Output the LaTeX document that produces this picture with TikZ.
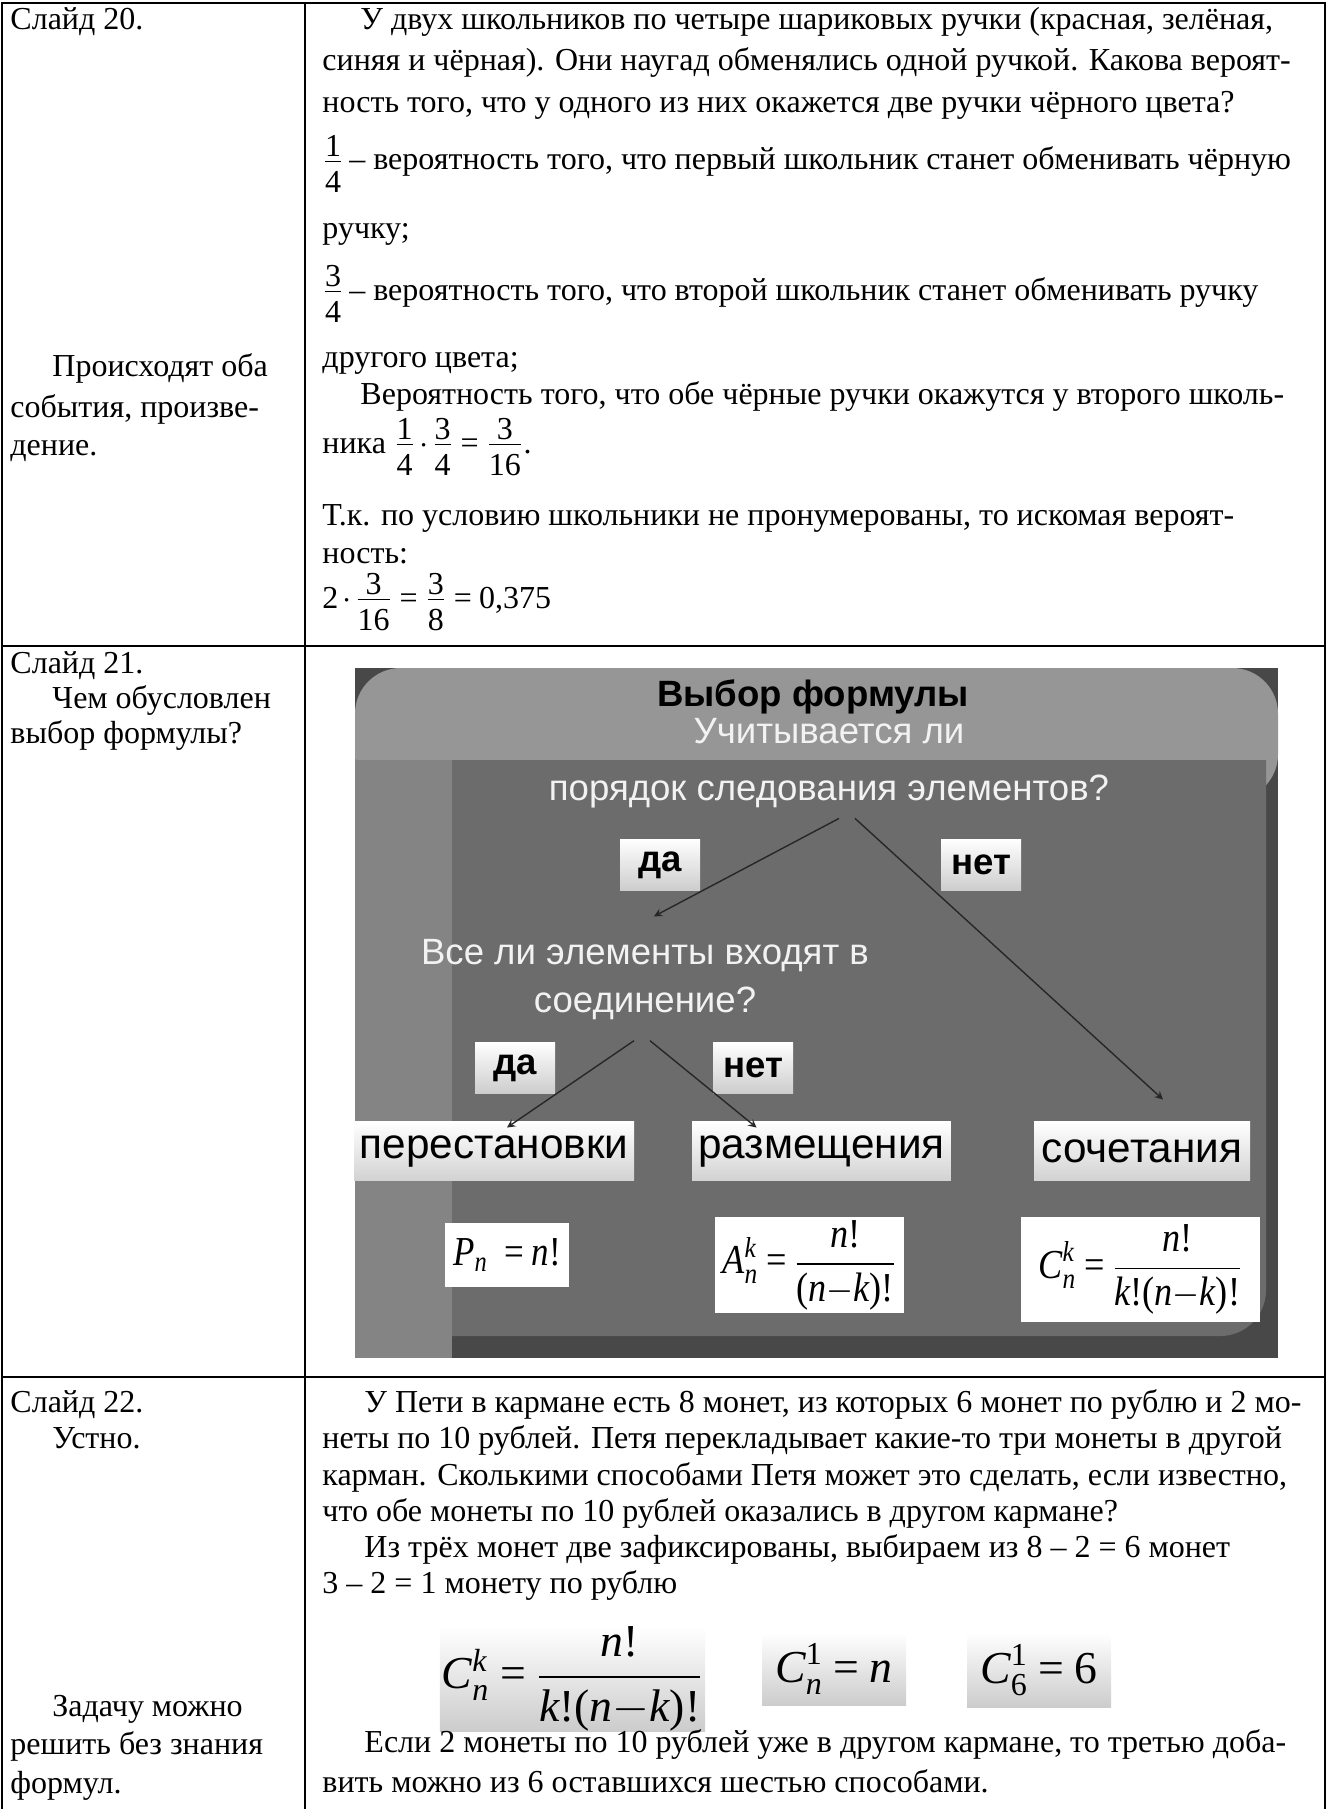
\documentclass[tikz,border=0pt]{standalone}
\usepackage{amsmath}
\usepackage{graphicx}
\usepackage{fontspec}
\setmainfont{Liberation Serif}
\newfontfamily\slidefont{Liberation Sans}
\usetikzlibrary{positioning}
\usetikzlibrary{arrows}
\usetikzlibrary{calc}

\definecolor{slidebg}{RGB}{72,72,72}
\definecolor{slidebody}{RGB}{108,108,108}
\definecolor{slideband}{RGB}{150,150,150}
\definecolor{slidestrip}{RGB}{132,132,132}
\definecolor{slidetext}{RGB}{242,242,242}

% fraction with full-size digits, numerator a little lower
\newcommand\fr[2]{\dfrac{\raisebox{-4pt}{#1}}{\mbox{#2}}}
% italic letter in Times-like face
\newcommand\vr[1]{\text{\rmfamily\itshape #1}}
\newcommand\nm[1]{\text{\rmfamily #1}}
\newcommand\eq{\mskip4mu\text{\rmfamily =}\mskip4mu}
\newcommand\dt{\mskip2mu{\cdot}\mskip2mu}

\begin{document}
\begin{tikzpicture}[x=0.4375pt, y=-0.4375pt,
  every node/.style={inner sep=0pt},
  line/.style={anchor=base west, font=\fontsize{14pt}{16pt}\selectfont},
  grid/.style={line width=0.9pt},
  stxt/.style={font=\slidefont\fontsize{16pt}{25pt}\selectfont, text=slidetext, align=center},
  tag/.style={font=\slidefont\bfseries\fontsize{16pt}{18pt}\selectfont, top color=white, bottom color=gray!40, minimum width=35pt, minimum height=22.5pt},
  kind/.style={font=\slidefont\fontsize{18.5pt}{20pt}\selectfont, top color=white, bottom color=gray!35, minimum height=25.4pt},
  frm/.style={fill=white, font=\fontsize{18pt}{20pt}\selectfont},
  cbox/.style={top color=white, bottom color=gray!40, font=\fontsize{20pt}{24pt}\selectfont},
  conn/.style={draw=black!85, line width=0.6pt, -stealth}]
  \useasboundingbox (0,0) rectangle (1327,1809);

  % table
  \draw[grid] (2,1809) -- (2,3) -- (1325,3) -- (1325,1809);
  \draw[grid] (305,3) -- (305,1809);
  \draw[grid] (2,646) -- (1325,646);
  \draw[grid] (2,1377) -- (1325,1377);

  % left column
  \node[line] (s20) at (10,30) {Слайд 20.};
  \node[line] (s20a) at (52,376) {Происходят оба};
  \node[line] (s20b) at (10,417) {события, произве-};
  \node[line] (s20c) at (10,455) {дение.};
  \node[line] (s21) at (10,673) {Слайд 21.};
  \node[line] (s21a) at (52,708) {Чем обусловлен};
  \node[line] (s21b) at (10,743) {выбор формулы?};
  \node[line] (s22) at (10,1412) {Слайд 22.};
  \node[line] (s22a) at (52,1448) {Устно.};
  \node[line] (s22b) at (52,1716) {Задачу можно};
  \node[line] (s22c) at (10,1754) {решить без знания};
  \node[line] (s22d) at (10,1793) {формул.};

  % slide 20
  \node[line] (p1) at (360,30) {У двух школьников по четыре шариковых ручки (красная, зелёная,};
  \node[line] (p2) at (322,71) {синяя и чёрная). Они наугад обменялись одной ручкой. Какова вероят-};
  \node[line] (p3) at (322,112) {ность того, что у одного из них окажется две ручки чёрного цвета?};
  \node[line] (p4) at (322,170) {$\fr{1}{4}$\,– вероятность того, что первый школьник станет обменивать чёрную};
  \node[line] (p5) at (322,238) {ручку;};
  \node[line] (p6) at (322,300) {$\fr{3}{4}$\,– вероятность того, что второй школьник станет обменивать ручку};
  \node[line] (p7) at (322,367) {другого цвета;};
  \node[line] (p8) at (360,404) {Вероятность того, что обе чёрные ручки окажутся у второго школь-};
  \node[line] (p9) at (322,453) {ника $\fr{1}{4}\dt\fr{3}{4}\eq\fr{3}{16}$.};
  \node[line] (p10) at (322,525) {Т.к. по условию школьники не пронумерованы, то искомая вероят-};
  \node[line] (p11) at (322,563) {ность:};
  \node[line] (p12) at (322,608) {$\nm{2}\dt\fr{3}{16}\eq\fr{3}{8}\eq\nm{0,375}$};

  % slide 21 picture
  \fill[slidebg] (355,668) rectangle (1278,1358);
  \fill[slideband, rounded corners=20pt] (355,668) rectangle (1278,800);
  \fill[slidebody] (355,760) -- (1266,760) [rounded corners=20pt] -- (1266,1336) -- (355,1336) [sharp corners] -- cycle;
  \fill[slidestrip] (355,760) rectangle (452,1358);

  \node[font=\slidefont\bfseries\fontsize{16pt}{18pt}\selectfont] (title) at (813,697) {Выбор формулы};
  \node[stxt] (q1) at (829,763) {Учитывается ли\\порядок следования элементов?};
  \node[tag] (yes1) at (660,865) {да};
  \node[tag] (no1) at (981,865) {нет};
  \node[stxt, font=\slidefont\fontsize{16pt}{21pt}\selectfont] (q2) at (645,980) {Все ли элементы входят в\\соединение?};
  \node[tag] (yes2) at (515,1068) {да};
  \node[tag] (no2) at (753,1068) {нет};
  \node[kind, minimum width=122.5pt] (perm) at (494,1151) {перестановки};
  \node[kind, minimum width=113.3pt] (arr) at (821.5,1151) {размещения};
  \node[kind, minimum width=94.5pt] (comb) at (1142,1151) {сочетания};
  \node[frm, minimum width=54.3pt, minimum height=28pt] (fP) at (507,1255) {\scalebox{0.85}[1]{$\vr{P}_{\vr{n}}\;\eq\vr{n}\nm{!}$}};
  \node[frm, minimum width=82.7pt, minimum height=42pt] (fA) at (809.5,1265) {\scalebox{0.88}[1]{$\vr{A}_{\vr{n}}^{\vr{k}}\eq\dfrac{\vr{n}\nm{!}}{\nm{(}\vr{n}{-}\vr{k}\nm{)!}}$}};
  \node[frm, minimum width=104.6pt, minimum height=46pt] (fC) at (1140.5,1269.5) {\scalebox{0.88}[1]{$\vr{C}_{\vr{n}}^{\vr{k}}\eq\dfrac{\vr{n}\nm{!}}{\vr{k}\nm{!(}\vr{n}{-}\vr{k}\nm{)!}}$}};

  \draw[conn] ($(q1.south)+(10,10)$) -- ($(q2.north)+(9,-23)$);
  \draw[conn] ($(q1.south)+(26,10)$) -- ($(comb.north)+(21,-22)$);
  \draw[conn] ($(q2.south)+(-11,20)$) -- ($(perm.north)+(13,6)$);
  \draw[conn] ($(q2.south)+(5,20)$) -- ($(arr.north)!0.5!(arr.north west)+(0,6)$);

  % slide 22
  \node[line] (m1) at (364,1412) {У Пети в кармане есть 8 монет, из которых 6 монет по рублю и 2 мо-};
  \node[line] (m2) at (322,1448) {неты по 10 рублей. Петя перекладывает какие-то три монеты в другой};
  \node[line] (m3) at (322,1485) {карман. Сколькими способами Петя может это сделать, если известно,};
  \node[line] (m4) at (322,1521) {что обе монеты по 10 рублей оказались в другом кармане?};
  \node[line] (m5) at (364,1557) {Из трёх монет две зафиксированы, выбираем из 8 – 2 = 6 монет};
  \node[line] (m6) at (322,1593) {3 – 2 = 1 монету по рублю};
  \node[cbox, minimum width=116pt, minimum height=44.6pt] (c1) at (572.5,1679) {$\vr{C}_{\vr{n}}^{\vr{k}}\eq\dfrac{\vr{n}\nm{!}}{\vr{k}\nm{!(}\vr{n}{-}\vr{k}\nm{)!}}$};
  \node[cbox, minimum width=63pt, minimum height=31.5pt] (c2) at (834,1669) {$\vr{C}_{\vr{n}}^{\nm{1}}\eq\vr{n}$};
  \node[cbox, minimum width=63pt, minimum height=32.4pt] (c3) at (1039,1670) {$\vr{C}_{\nm{6}}^{\nm{1}}\eq\nm{6}$};
  \node[line] (m7) at (364,1752) {Если 2 монеты по 10 рублей уже в другом кармане, то третью доба-};
  \node[line] (m8) at (322,1792) {вить можно из 6 оставшихся шестью способами.};
\end{tikzpicture}
\end{document}
